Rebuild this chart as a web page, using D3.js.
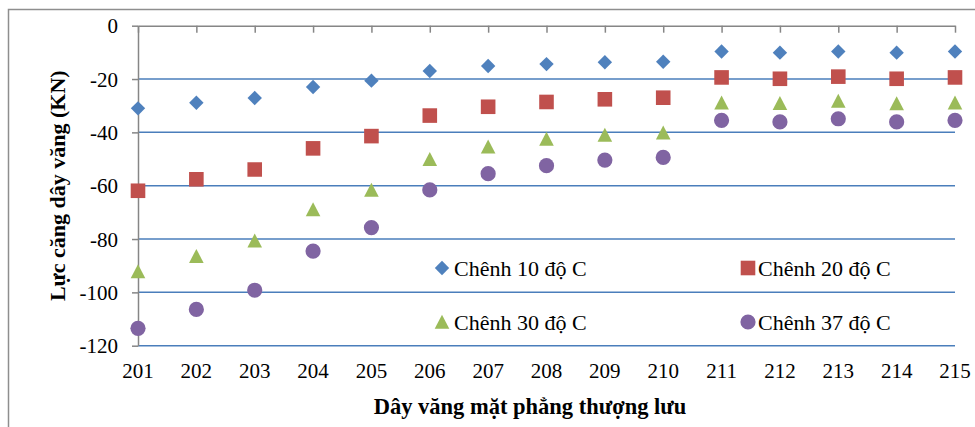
<!DOCTYPE html>
<meta charset="utf-8">
<style>
body { margin: 0; background: #fff; }
svg { display: block; }
</style>
<body>
<script src="https://d3js.org/d3.v7.min.js"></script>
<script>
var width = 975
var height = 427
var font = '"Liberation Serif"'

// cable numbers (x axis categories)
var cables = [201, 202, 203, 204, 205, 206, 207, 208, 209, 210, 211, 212, 213, 214, 215]
var yTicks = [0, -20, -40, -60, -80, -100, -120]

// cable force (KN) per temperature difference
var diff10 = [-31.0, -28.9, -27.1, -23.0, -20.6, -17.0, -15.1, -14.4, -13.7, -13.5, -9.7, -10.1, -9.7, -10.1, -9.7]
var diff20 = [-61.9, -57.6, -53.9, -46.0, -41.4, -33.7, -30.4, -28.6, -27.6, -27.0, -19.4, -19.9, -19.1, -19.9, -19.4]
var diff30 = [-92.2, -86.4, -80.6, -68.9, -61.6, -50.1, -45.4, -42.5, -41.0, -40.1, -28.9, -29.1, -28.2, -29.2, -28.9]
var diff37 = [-113.5, -106.4, -99.2, -84.5, -75.7, -61.6, -55.5, -52.5, -50.4, -49.4, -35.5, -36.1, -34.9, -36.1, -35.5]

var seriesNames = ['Chênh 10 độ C', 'Chênh 20 độ C', 'Chênh 30 độ C', 'Chênh 37 độ C']

var series = [
    { name: seriesNames[0], values: diff10, color: '#4f81bd', shape: 'diamond' },
    { name: seriesNames[1], values: diff20, color: '#c0504d', shape: 'square' },
    { name: seriesNames[2], values: diff30, color: '#9bbb59', shape: 'triangle' },
    { name: seriesNames[3], values: diff37, color: '#8064a2', shape: 'circle' }
]

var x = d3.scaleLinear().domain([201, 215]).range([138, 955])
var y = d3.scaleLinear().domain([0, -120]).range([25.7, 345.7])

function marker(shape, cx, cy) {
    if (shape === 'diamond') {
        var d = 7.2
        return 'M' + cx + ',' + (cy - d) + 'L' + (cx + d) + ',' + cy + 'L' + cx + ',' + (cy + d) + 'L' + (cx - d) + ',' + cy + 'Z'
    }
    if (shape === 'square') {
        var s = 7.3
        return 'M' + (cx - s) + ',' + (cy - s) + 'h' + (2 * s) + 'v' + (2 * s) + 'h' + (-2 * s) + 'Z'
    }
    if (shape === 'triangle') {
        return 'M' + cx + ',' + (cy - 7.2) + 'L' + (cx + 7.3) + ',' + (cy + 6.8) + 'L' + (cx - 7.3) + ',' + (cy + 6.8) + 'Z'
    }
    var r = 7.6
    return 'M' + (cx - r) + ',' + cy + 'a' + r + ',' + r + ' 0 1,0 ' + (2 * r) + ',0' + 'a' + r + ',' + r + ' 0 1,0 ' + (-2 * r) + ',0Z'
}

var svg = d3.select('body').append('svg')
    .attr('width', width)
    .attr('height', height)
    .style('font-family', font)

// outer chart border
svg.append('rect')
    .attr('x', 8.5).attr('y', 9.5)
    .attr('width', 1000).attr('height', 500)
    .attr('fill', 'none')
    .attr('stroke', '#8e8e8e')
    .attr('stroke-width', 1.5)

// grid lines
svg.append('g').selectAll('line')
    .data(yTicks.filter(function (d) { return d !== 0 }))
    .enter().append('line')
    .attr('x1', x(201)).attr('x2', x(215))
    .attr('y1', function (d) { return y(d) }).attr('y2', function (d) { return y(d) })
    .attr('stroke', '#4a7ebb')
    .attr('stroke-width', 1.5)

// y axis (plain hyphen for negatives, like the original)
var yAxis = svg.append('g')
    .attr('transform', 'translate(' + x(201) + ',0)')
    .call(d3.axisLeft(y).tickValues(yTicks).tickSize(6).tickPadding(14).tickSizeOuter(0)
        .tickFormat(function (d) { return String(d) }))
yAxis.attr('font-family', null)
yAxis.select('.domain').attr('stroke', '#868686').attr('stroke-width', 1.5)
yAxis.selectAll('.tick line').attr('stroke', '#868686').attr('stroke-width', 1.5)
yAxis.selectAll('.tick text')
    .style('font-family', font)
    .style('font-size', '21px')
    .attr('fill', '#000')
    .attr('dy', '0.34em')

// x axis line sits at y = 0 (top), labels at the bottom
var xAxis = svg.append('g')
    .attr('transform', 'translate(0,' + y(0) + ')')
    .call(d3.axisBottom(x).tickValues(cables).tickSize(7).tickSizeOuter(0).tickFormat(''))
xAxis.select('.domain').attr('stroke', '#868686').attr('stroke-width', 1.5)
xAxis.selectAll('.tick line').attr('stroke', '#868686').attr('stroke-width', 1.5)

svg.append('g').selectAll('text')
    .data(cables)
    .enter().append('text')
    .attr('x', function (d) { return x(d) })
    .attr('y', 378)
    .attr('text-anchor', 'middle')
    .style('font-family', font)
    .style('font-size', '21px')
    .text(function (d) { return d })

// axis titles
svg.append('text')
    .attr('transform', 'translate(65,' + ((y(0) + y(-120)) / 2) + ') rotate(-90)')
    .attr('text-anchor', 'middle')
    .style('font-family', font)
    .style('font-size', '22px')
    .style('font-weight', 'bold')
    .text('Lực căng dây văng (KN)')

svg.append('text')
    .attr('x', 530)
    .attr('y', 414)
    .attr('text-anchor', 'middle')
    .style('font-family', font)
    .style('font-size', '22.5px')
    .style('font-weight', 'bold')
    .text('Dây văng mặt phẳng thượng lưu')

// points
series.forEach(function (s) {
    svg.append('g').selectAll('path')
        .data(s.values)
        .enter().append('path')
        .attr('d', function (v, i) { return marker(s.shape, x(cables[i]), y(v)) })
        .attr('fill', s.color)
})

// legend
var legendPos = [[442, 268], [748, 268], [442, 322], [748, 322]]
var legend = svg.append('g').selectAll('g')
    .data(series)
    .enter().append('g')
legend.append('path')
    .attr('d', function (s, i) { return marker(s.shape, legendPos[i][0], legendPos[i][1]) })
    .attr('fill', function (s) { return s.color })
legend.append('text')
    .attr('x', function (s, i) { return legendPos[i][0] + (i % 2 ? 10 : 12) })
    .attr('y', function (s, i) { return legendPos[i][1] + 8 })
    .style('font-family', font)
    .style('font-size', '22px')
    .text(function (s) { return s.name })
</script>
</body>
